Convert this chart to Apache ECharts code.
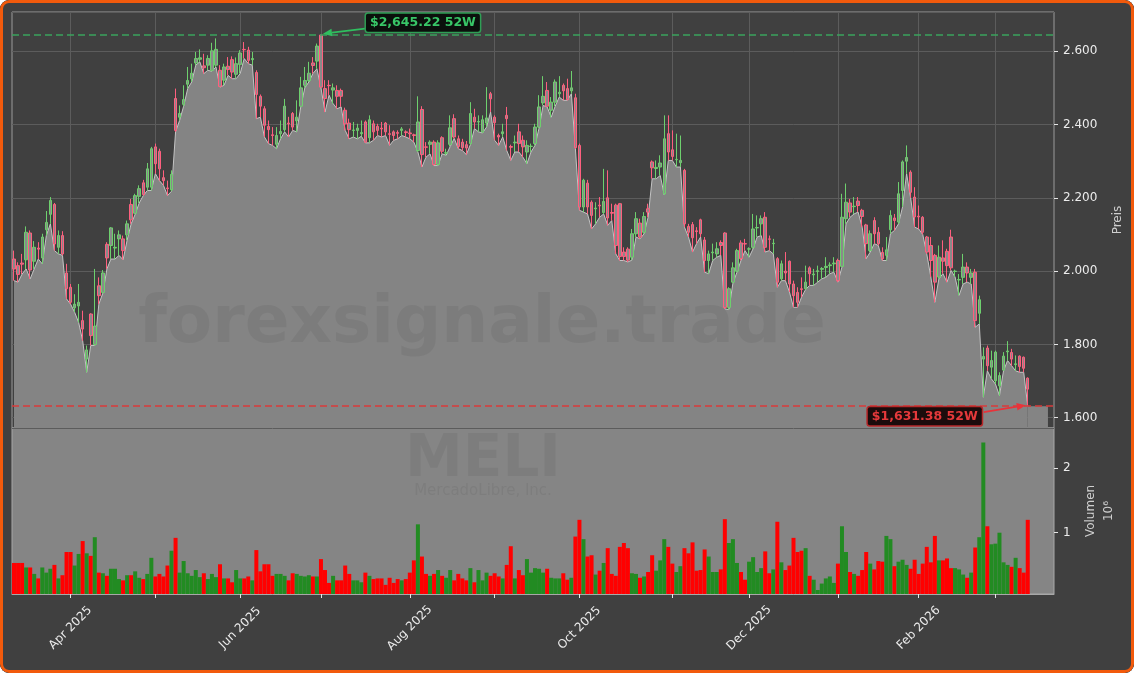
<!DOCTYPE html>
<html><head><meta charset="utf-8">
<script src="https://cdn.jsdelivr.net/npm/echarts@6/dist/echarts.min.js"></script>
<style>
html,body{margin:0;padding:0;background:#ffffff;}
#wrap{position:relative;width:1134px;height:673px;border-radius:9px;overflow:hidden;background:#404040;}
#chart{position:absolute;left:0;top:0;width:1134px;height:673px;}
#frame{position:absolute;left:0;top:0;width:1134px;height:673px;box-sizing:border-box;border:3px solid #f25a0c;border-radius:9px;pointer-events:none;}
</style></head><body>
<div id="wrap"><div id="chart"></div><div id="frame"></div></div>
<script>
// ---- data ----
const opens = [
2033,2015,2022,2031,2104,2027,2063,2036,2113,2155,
2182,2065,2097,1995,1956,1900,1905,1865,1760,1883,
1800,1960,1942,2073,2070,2063,2088,2088,2099,2182,
2158,2204,2241,2229,2229,2339,2327,2255,2227,2222,
2471,2420,2455,2510,2525,2568,2578,2560,2562,2548,
2562,2548,2521,2559,2577,2537,2564,2605,2603,2577,
2542,2477,2443,2395,2372,2346,2375,2386,2404,2430,
2410,2450,2507,2520,2568,2573,2644,2498,2507,2494,
2493,2493,2439,2404,2384,2384,2375,2407,2364,2402,
2395,2390,2404,2375,2380,2378,2384,2380,2377,2372,
2329,2441,2339,2346,2352,2291,2364,2322,2346,2416,
2361,2352,2345,2348,2420,2407,2380,2404,2484,2420,
2370,2375,2425,2340,2350,2380,2357,2325,2340,2348,
2393,2459,2493,2439,2461,2484,2507,2498,2492,2473,
2343,2175,2240,2188,2170,2180,2160,2200,2160,2180,
2184,2052,2060,2038,2102,2131,2106,2170,2298,2280,
2284,2211,2375,2331,2304,2296,2275,2122,2127,2110,
2140,2085,2029,2050,2047,2078,2104,1901,1970,2000,
2077,2075,2060,2065,2118,2129,2147,2088,2075,2034,
1979,2000,2027,1965,1942,1952,1952,2009,1990,1999,
2005,2010,2015,2020,2029,2013,2143,2186,2176,2191,
2166,2126,2056,2138,2106,2051,2043,2113,2145,2134,
2220,2300,2270,2202,2150,2147,2093,2070,2043,1984,
2036,2054,2093,1999,1976,1983,2011,1983,1997,1885,
1760,1790,1738,1701,1687,1730,1780,1778,1745,1768,
1765,1708];
const closes = [
2006,1991,2019,2106,2003,2065,2060,2093,2133,2193,
2074,2097,2047,1952,1915,1910,1915,1842,1785,1824,
1850,1933,1995,2036,2118,2065,2099,2056,2129,2140,
2206,2225,2209,2279,2334,2293,2279,2247,2225,2264,
2384,2430,2468,2520,2540,2580,2582,2555,2580,2601,
2605,2504,2557,2550,2543,2566,2595,2604,2575,2580,
2482,2450,2398,2386,2370,2370,2381,2450,2402,2393,
2420,2500,2520,2540,2561,2614,2502,2471,2506,2500,
2477,2477,2402,2386,2385,2390,2378,2352,2413,2380,
2384,2388,2380,2373,2370,2376,2388,2378,2375,2370,
2407,2318,2338,2352,2291,2350,2327,2323,2391,2366,
2340,2337,2336,2430,2407,2408,2413,2418,2470,2405,
2366,2380,2416,2338,2352,2348,2339,2343,2341,2393,
2448,2477,2450,2461,2516,2488,2492,2468,2500,2337,
2175,2248,2175,2152,2172,2178,2190,2145,2158,2070,
2040,2040,2030,2102,2143,2093,2149,2161,2282,2283,
2295,2361,2325,2313,2305,2302,2129,2106,2091,2108,
2102,2029,2047,2052,2061,2070,1901,1952,2009,2056,
2034,2074,2061,2115,2119,2143,2065,2087,2076,1970,
2020,1995,1965,1933,1915,1950,1970,1993,1992,2001,
2007,2013,2017,2022,1974,2147,2188,2161,2177,2179,
2149,2075,2102,2102,2075,2034,2058,2152,2138,2211,
2298,2310,2215,2148,2148,2106,2052,2029,1970,2038,
2027,2015,2009,2000,1977,2011,1995,1995,1865,1922,
1767,1742,1756,1779,1715,1768,1782,1760,1747,1740,
1735,1678];
const lows = [
1974,1970,1992,2006,1979,2006,2033,2020,2097,2129,
2056,2047,2043,1924,1910,1888,1860,1810,1724,1797,
1797,1910,1940,2006,2033,2033,2043,2031,2084,2129,
2155,2186,2206,2220,2220,2266,2247,2234,2206,2218,
2380,2411,2450,2498,2516,2562,2571,2539,2548,2545,
2557,2502,2507,2534,2525,2525,2539,2580,2566,2562,
2416,2420,2366,2348,2343,2334,2361,2380,2366,2384,
2380,2448,2500,2516,2539,2552,2500,2434,2480,2457,
2443,2448,2384,2361,2366,2361,2368,2350,2350,2357,
2370,2366,2370,2343,2357,2361,2370,2366,2361,2352,
2325,2284,2311,2320,2288,2288,2320,2316,2340,2362,
2334,2329,2318,2345,2389,2380,2377,2393,2434,2357,
2343,2366,2329,2302,2325,2325,2311,2293,2325,2343,
2390,2452,2448,2420,2450,2475,2466,2466,2484,2334,
2166,2161,2156,2115,2129,2147,2156,2125,2138,2047,
2029,2029,2025,2030,2093,2088,2102,2147,2252,2252,
2261,2208,2302,2302,2284,2284,2120,2093,2052,2075,
2093,1997,1993,2029,2038,2043,1897,1895,1967,1997,
2029,2056,2038,2061,2093,2097,2052,2056,2047,1956,
1974,1974,1943,1901,1901,1929,1950,1961,1961,1970,
1979,1983,1993,1997,1970,2011,2129,2147,2156,2161,
2120,2034,2052,2075,2070,2029,2029,2102,2111,2129,
2175,2266,2200,2120,2115,2100,2047,1984,1915,1979,
1993,1970,2002,1984,1934,1965,1970,1965,1847,1856,
1656,1728,1706,1692,1660,1728,1756,1742,1728,1724,
1724,1631.38];
const highs = [
2056,2024,2047,2122,2111,2082,2079,2102,2164,2202,
2186,2111,2109,2020,1965,1937,1965,1892,1797,1885,
2006,1983,2003,2079,2120,2102,2111,2097,2138,2197,
2211,2234,2249,2295,2339,2348,2334,2275,2247,2275,
2498,2452,2507,2557,2566,2598,2605,2593,2589,2623,
2635,2562,2566,2584,2586,2583,2603,2625,2612,2598,
2548,2482,2450,2411,2393,2393,2411,2470,2421,2434,
2466,2530,2557,2571,2584,2621,2645.22,2521,2521,2512,
2507,2498,2446,2416,2407,2402,2411,2411,2425,2411,
2402,2407,2407,2398,2384,2384,2393,2384,2389,2375,
2477,2450,2352,2357,2357,2357,2368,2334,2425,2428,
2370,2361,2355,2461,2443,2425,2425,2502,2489,2425,
2375,2402,2448,2345,2370,2402,2370,2357,2348,2402,
2480,2532,2516,2475,2523,2532,2512,2525,2546,2484,
2348,2252,2249,2193,2188,2202,2279,2275,2184,2184,
2186,2065,2065,2115,2161,2143,2161,2184,2302,2302,
2316,2425,2425,2384,2375,2370,2279,2129,2134,2120,
2143,2093,2056,2075,2079,2084,2106,1956,2024,2061,
2084,2088,2065,2156,2152,2152,2161,2097,2088,2038,
2029,2052,2029,1974,1956,1983,2015,2013,2006,2015,
2011,2038,2024,2038,2034,2211,2239,2197,2202,2202,
2170,2129,2111,2147,2120,2065,2093,2166,2156,2243,
2302,2343,2275,2229,2179,2150,2096,2093,2047,2070,
2084,2061,2113,2004,1992,2047,2024,2006,2006,1933,
1792,1797,1783,1783,1724,1779,1809,1788,1770,1770,
1767,1710];
// volume in millions
const volumes = [
0.53,0.53,0.53,0.46,0.46,0.36,0.29,0.46,0.38,0.44,
0.50,0.29,0.34,0.70,0.70,0.49,0.67,0.87,0.68,0.64,
0.93,0.38,0.37,0.33,0.44,0.44,0.28,0.26,0.34,0.34,
0.40,0.30,0.28,0.36,0.61,0.32,0.36,0.32,0.49,0.72,
0.92,0.38,0.56,0.37,0.33,0.42,0.31,0.37,0.28,0.36,
0.31,0.51,0.29,0.29,0.23,0.42,0.29,0.29,0.32,0.26,
0.73,0.40,0.51,0.51,0.33,0.36,0.36,0.33,0.26,0.37,
0.36,0.33,0.32,0.34,0.32,0.32,0.59,0.42,0.22,0.33,
0.26,0.26,0.49,0.36,0.26,0.26,0.23,0.38,0.33,0.28,
0.29,0.29,0.19,0.30,0.22,0.28,0.26,0.28,0.38,0.57,
1.13,0.63,0.36,0.33,0.36,0.42,0.33,0.30,0.42,0.26,
0.36,0.29,0.26,0.45,0.23,0.42,0.26,0.38,0.33,0.37,
0.32,0.29,0.50,0.79,0.29,0.42,0.34,0.59,0.38,0.45,
0.44,0.38,0.44,0.30,0.29,0.29,
0.37,0.27,0.30,0.94,1.20,0.90,0.63,0.65,0.35,0.41,
0.53,0.76,0.36,0.33,0.78,0.84,0.76,0.37,0.36,0.30,
0.32,0.39,0.65,0.41,0.57,0.90,0.78,0.52,0.39,0.48,
0.76,0.68,0.85,0.41,0.42,0.74,0.63,0.39,0.39,0.43,
1.21,0.84,0.90,0.53,0.39,0.27,0.55,0.62,0.39,0.45,
0.71,0.37,0.43,1.17,0.54,0.42,0.49,0.92,0.70,0.72,
0.76,0.33,0.27,0.11,0.21,0.29,0.32,0.22,0.52,1.10,
0.70,0.39,0.36,0.33,0.42,0.70,0.52,0.43,0.56,0.55,
0.95,0.90,0.48,0.55,0.58,0.50,0.44,0.58,0.36,0.52,
0.78,0.54,0.95,0.57,0.57,0.60,0.45,0.45,0.43,0.35,
0.30,0.38,0.77,0.93,2.40,1.10,0.82,0.83,1.00,0.54,
0.50,0.47,0.61,0.45,0.38,1.20];
// month ticks (index of first trading day of each month) and their labels
const tickIndex = [14,35,56,76,98,119,140,163,182,204,224,243];
const tickLabels = ['Apr 2025','','Jun 2025','','Aug 2025','','Oct 2025','','Dec 2025','','Feb 2026',''];
const priceMin = 1572, priceMax = 2707;
const volMin = 0.048, volMax = 2.626;
const PAD = 6; // empty slots right of the last candle
const ticker = 'MELI', company = 'MercadoLibre, Inc.', watermark = 'forexsignale.trade';

// ---- build ----
const N = opens.length;
const cats = [];
for (let i = 0; i < N + PAD; i++) cats.push(String(i));
const candles = opens.map((o, i) => [o, closes[i], lows[i], highs[i]]);
const labelAt = {};
tickIndex.forEach((t, k) => labelAt[t] = tickLabels[k]);
const isTick = i => labelAt.hasOwnProperty(i);
const hiIdx = highs.indexOf(Math.max(...highs));
const loIdx = lows.indexOf(Math.min(...lows));
const hiVal = highs[hiIdx], loVal = lows[loIdx];
const fmtThousands = v => { const s = String(Math.round(v)); return s.length > 3 ? s.slice(0, -3) + '.' + s.slice(-3) : s; };
const fmtUSD = v => '$' + v.toFixed(2).replace(/\B(?=(\d{3})+(?!\d))/g, ',');

const FONT = '"DejaVu Sans", "Liberation Sans", sans-serif';
const chart = echarts.init(document.getElementById('chart'), null, {renderer: 'canvas'});
const GREEN = '#228b22', RED = '#ff0000';
const WM = 'rgba(0,0,0,0.06)';

chart.setOption({
  animation: false,
  backgroundColor: '#404040',
  textStyle: {fontFamily: FONT},
  grid: [
    {left: 12, right: 80, top: 12, height: 416, show: true, backgroundColor: '#404040', borderColor: '#9a9a9a', borderWidth: 1},
    {left: 12, right: 80, top: 428, height: 166, show: true, backgroundColor: '#858585', borderColor: '#a8a8a8', borderWidth: 1}
  ],
  xAxis: [
    {type: 'category', gridIndex: 0, data: cats, boundaryGap: true,
     axisLine: {show: false}, axisTick: {show: false}, axisLabel: {show: false}, splitLine: {show: false}},
    {type: 'category', gridIndex: 1, data: cats, boundaryGap: true,
     axisLine: {show: true, lineStyle: {color: '#a8a8a8', width: 1}},
     axisTick: {show: true, alignWithLabel: true, interval: (i) => isTick(i), length: 4, lineStyle: {color: '#e6e6e6', width: 1}},
     axisLabel: {show: true, interval: (i) => isTick(i) && labelAt[i] !== '', formatter: (v, i) => labelAt[i] || '',
       rotate: 45, align: 'center', verticalAlign: 'middle', margin: 34, color: '#ececec', fontSize: 12, fontFamily: FONT},
     splitLine: {show: false}}
  ],
  yAxis: [
    {type: 'value', gridIndex: 0, position: 'right', min: priceMin, max: priceMax, splitNumber: 5,
     axisLine: {show: false},
     axisTick: {show: true, length: 4, lineStyle: {color: '#e6e6e6'}},
     axisLabel: {color: '#ececec', fontSize: 12, margin: 9, fontFamily: FONT, formatter: fmtThousands, showMinLabel: false, showMaxLabel: false},
     splitLine: {show: true, lineStyle: {color: '#5c5c5c', width: 1}},
     name: 'Preis', nameLocation: 'middle', nameGap: 58, nameRotate: 90,
     nameTextStyle: {color: '#cfcfcf', fontSize: 12, fontFamily: FONT}},
    {type: 'value', gridIndex: 1, position: 'right', min: volMin, max: volMax, splitNumber: 3,
     axisLine: {show: false},
     axisTick: {show: true, length: 4, lineStyle: {color: '#e6e6e6'}},
     axisLabel: {color: '#ececec', fontSize: 12, margin: 9, fontFamily: FONT, showMinLabel: false, showMaxLabel: false,
       formatter: v => String(Math.round(v))},
     splitLine: {show: false},
     name: 'Volumen\n10⁶', nameLocation: 'middle', nameGap: 21, nameRotate: 90,
     nameTextStyle: {color: '#cfcfcf', fontSize: 12, lineHeight: 18, fontFamily: FONT}}
  ],
  series: [
    {type: 'line', name: 'low', xAxisIndex: 0, yAxisIndex: 0, data: lows, z: 2,
     showSymbol: false, symbol: 'none', silent: true,
     lineStyle: {color: '#c4c4c4', width: 1},
     areaStyle: {color: '#848484', opacity: 1, origin: 'start'},
     markLine: {silent: true, symbol: 'none', z: 1, label: {show: false},
       lineStyle: {color: '#5c5c5c', width: 1, type: 'solid'},
       data: tickIndex.map(t => ({xAxis: t}))},
     markArea: {silent: true, z: 2, itemStyle: {color: '#848484', opacity: 1},
       data: [[{xAxis: N - 1, yAxis: priceMin}, {xAxis: N - 1 + 5, yAxis: loVal}]]}},
    {type: 'candlestick', name: 'MELI', xAxisIndex: 0, yAxisIndex: 0, data: candles, z: 3, barWidth: 3,
     itemStyle: {color: '#8a8a8a', color0: '#8a8a8a', borderColor: '#6ed06e', borderColor0: '#ff5f7e', borderWidth: 1},
     markLine: {silent: true, symbol: 'none', z: 6, label: {show: false},
       data: [
         {yAxis: hiVal, lineStyle: {color: '#3aa25c', width: 1.6, type: [7, 4]}},
         {yAxis: loVal, lineStyle: {color: '#d93a3a', width: 1.6, type: [7, 4]}}
       ]}},
    {type: 'bar', name: 'Volumen', xAxisIndex: 1, yAxisIndex: 1, data: volumes, barWidth: 4,
     itemStyle: {color: (p) => closes[p.dataIndex] >= opens[p.dataIndex] ? GREEN : RED}}
  ],
  graphic: [
    {type: 'text', id: 'wm1', z: 50, silent: true,
     style: {text: watermark, font: 'bold 66px ' + FONT, fill: WM, align: 'center', verticalAlign: 'middle', x: 482, y: 325}},
    {type: 'text', id: 'wm2', z: 50, silent: true,
     style: {text: ticker, font: 'bold 58px ' + FONT, fill: WM, align: 'center', verticalAlign: 'middle', x: 483, y: 461}},
    {type: 'text', id: 'wm3', z: 50, silent: true,
     style: {text: company, font: '15px ' + FONT, fill: WM, align: 'center', verticalAlign: 'middle', x: 483, y: 491}}
  ]
});

function arrow(id, from, to, color) {
  const dx = to[0] - from[0], dy = to[1] - from[1];
  const len = Math.hypot(dx, dy), ux = dx / len, uy = dy / len;
  const hl = 9, hw = 3.8;
  const bx = to[0] - ux * hl, by = to[1] - uy * hl;
  return [
    {type: 'line', id: id + 'L', z: 60, silent: true,
     shape: {x1: from[0], y1: from[1], x2: bx, y2: by}, style: {stroke: color, lineWidth: 1.8}},
    {type: 'polygon', id: id + 'H', z: 60, silent: true,
     shape: {points: [[to[0], to[1]], [bx - uy * hw, by + ux * hw], [bx + uy * hw, by - ux * hw]]}, style: {fill: color}}
  ];
}

const ph = chart.convertToPixel({xAxisIndex: 0, yAxisIndex: 0}, [hiIdx, hiVal]);
const pl = chart.convertToPixel({xAxisIndex: 0, yAxisIndex: 0}, [loIdx, loVal]);
const labelFont = 'bold 12.5px ' + FONT;
const notes = [
  {type: 'text', id: 'hiBox', z: 61, silent: true,
   style: {text: fmtUSD(hiVal) + ' 52W', font: labelFont, fill: '#38c667', x: ph[0] + 45, y: ph[1] - 21,
     align: 'left', verticalAlign: 'top', backgroundColor: '#0b100c', borderColor: '#2f9e55', borderWidth: 1.5,
     borderRadius: 2, padding: [3, 4, 2, 4]}},
  ...arrow('hiArr', [ph[0] + 44, ph[1] - 6], [ph[0] + 2, ph[1] - 1], '#2fbf5f'),
  {type: 'text', id: 'loBox', z: 61, silent: true,
   style: {text: fmtUSD(loVal) + ' 52W', font: labelFont, fill: '#e5393b', x: pl[0] - 46, y: pl[1] + 1,
     align: 'right', verticalAlign: 'top', backgroundColor: '#1b0c0c', borderColor: '#b8282a', borderWidth: 1.5,
     borderRadius: 2, padding: [3, 4, 2, 4]}},
  ...arrow('loArr', [pl[0] - 44, pl[1] + 6], [pl[0] - 2, pl[1] - 1], '#e8333a')
];
chart.setOption({graphic: notes});
</script>
</body></html>
